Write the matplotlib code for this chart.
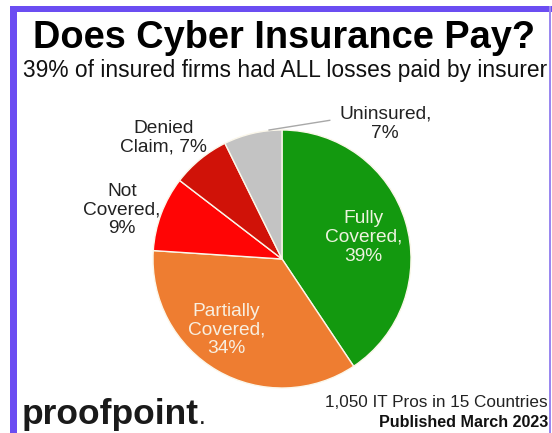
import matplotlib
matplotlib.use("Agg")
import matplotlib.pyplot as plt
from matplotlib.lines import Line2D
from matplotlib.patches import Rectangle

plt.rcParams['font.family'] = ['Liberation Sans', 'DejaVu Sans']

# Data
categories = ["Fully\nCovered,\n39%", "Partially\nCovered,\n34%", "Not\nCovered,\n9%",
              "Denied\nClaim, 7%", "Uninsured,\n7%"]
values = [39, 34, 9, 7, 7]
colors = ["#13990f", "#ee7d31", "#ff0505", "#d01208", "#c3c3c3"]
# label positions (in pie radius units) and colours
label_pos = [(0.63, 0.17), (-0.43, -0.55), (-1.24, 0.38), (-0.92, 0.94), (0.80, 1.05)]
label_col = ["#eef3e0", "#f8efe0", "#222222", "#222222", "#222222"]

W, H = 552, 433
fig = plt.figure(figsize=(W / 100, H / 100), dpi=100)
fig.patch.set_facecolor("white")

# border
purple = "#6b4df2"
fig.add_artist(Rectangle((10 / W, 0), 7 / W, 1 - 6 / H, transform=fig.transFigure,
                         facecolor=purple, edgecolor="none"))
fig.add_artist(Rectangle((10 / W, 1 - 12 / H), 1 - 10 / W, 6 / H, transform=fig.transFigure,
                         facecolor=purple, edgecolor="none"))
fig.add_artist(Rectangle((549 / W, 0), 2 / W, 1 - 6 / H, transform=fig.transFigure,
                         facecolor="#9a88f0", edgecolor="none"))

# pie
cx, cy, r = 282, 259, 129
ax = fig.add_axes([(cx - r) / W, (H - cy - r) / H, 2 * r / W, 2 * r / H])
ax.pie(values, colors=colors, startangle=90, counterclock=False, radius=1,
       wedgeprops=dict(edgecolor="#fbf7ea", linewidth=1.0))
ax.set_xlim(-1, 1)
ax.set_ylim(-1, 1)
ax.set_aspect("equal")
ax.axis("off")

for lab, (lx, ly), c in zip(categories, label_pos, label_col):
    ax.text(lx, ly, lab, ha="center", va="center", fontsize=13.8, color=c,
            linespacing=1.15, clip_on=False)

# leader line for Uninsured
ax.add_line(Line2D([-0.10, 0.37], [1.0, 1.075], color="#a8a8a8", lw=1.0, clip_on=False))

# titles
fig.text(284 / W, 1 - 48 / H, "Does Cyber Insurance Pay?", ha="center", va="baseline",
         fontsize=27.4, fontweight="bold", color="black")
fig.text(285 / W, 1 - 77 / H, "39% of insured firms had ALL losses paid by insurer",
         ha="center", va="baseline", fontsize=16.4, color="#111111")

# footer
fig.text(548 / W, 1 - 407 / H, "1,050 IT Pros in 15 Countries", ha="right", va="baseline",
         fontsize=12.3, color="#222222")
fig.text(548 / W, 1 - 427 / H, "Published March 2023", ha="right", va="baseline",
         fontsize=11.6, fontweight="bold", color="#111111")

fig.text(22 / W, 1 - 424 / H, "proofpoint", ha="left", va="baseline",
             fontsize=25.5, fontweight="bold", color="#1a1a1a")
fig.text(200 / W, 1 - 424 / H, ".", ha="left", va="baseline",
         fontsize=12, fontweight="bold", color="#1a1a1a")

fig.savefig("out.png", dpi=100, facecolor="white")
